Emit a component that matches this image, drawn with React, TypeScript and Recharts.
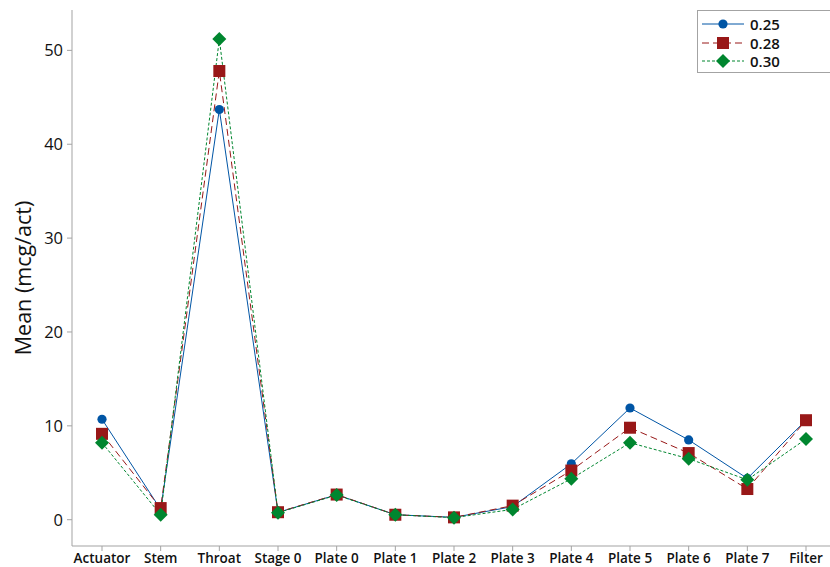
import {
  LineChart,
  Line,
  XAxis,
  YAxis,
  Legend,
} from "recharts";

const stages = [
  "Actuator",
  "Stem",
  "Throat",
  "Stage 0",
  "Plate 0",
  "Plate 1",
  "Plate 2",
  "Plate 3",
  "Plate 4",
  "Plate 5",
  "Plate 6",
  "Plate 7",
  "Filter",
];

const flow025 = [10.7, 1.1, 43.7, 0.78, 2.66, 0.53, 0.25, 1.4, 5.96, 11.9, 8.5, 4.4, 10.6];
const flow028 = [9.15, 1.24, 47.8, 0.8, 2.68, 0.53, 0.25, 1.5, 5.24, 9.8, 7.1, 3.27, 10.6];
const flow030 = [8.2, 0.53, 51.2, 0.75, 2.62, 0.53, 0.22, 1.1, 4.36, 8.2, 6.5, 4.25, 8.6];

const yTicks = [0, 10, 20, 30, 40, 50];

const BLUE = "#0055a5";
const RED = "#981818";
const GREEN = "#00862f";
const AXIS = "#a3a3a3";
const FONT = "'Open Sans', 'DejaVu Sans', sans-serif";

const chartData = stages.map((s, i) => ({
  stage: s,
  a: flow025[i],
  b: flow028[i],
  c: flow030[i],
}));

const CircleDot = ({ cx, cy, index }: any) => (
  <circle key={`c${index}`} cx={cx} cy={cy} r={4.6} fill={BLUE} />
);

const SquareDot = ({ cx, cy, index }: any) => (
  <rect key={`s${index}`} x={cx - 6} y={cy - 6} width={12} height={12} fill={RED} />
);

const DiamondDot = ({ cx, cy, index }: any) => (
  <polygon
    key={`d${index}`}
    points={`${cx},${cy - 7} ${cx + 7},${cy} ${cx},${cy + 7} ${cx - 7},${cy}`}
    fill={GREEN}
  />
);

const series = [
  { key: "a", name: "0.25", color: BLUE, dash: undefined, Dot: CircleDot },
  { key: "b", name: "0.28", color: RED, dash: "7 4", Dot: SquareDot },
  { key: "c", name: "0.30", color: GREEN, dash: "3 2", Dot: DiamondDot },
];

// boxed legend in the top right corner, line sample with marker in the middle
const LegendBox = () => (
  <div
    style={{
      border: `1px solid ${AXIS}`,
      width: 140,
      height: 63,
      boxSizing: "border-box",
      background: "#fff",
      paddingTop: 4,
    }}
  >
    {series.map((s) => (
      <div
        key={s.key}
        style={{ display: "flex", alignItems: "center", height: 18.5 }}
      >
        <svg width={48} height={16} style={{ marginLeft: 4 }}>
          <line
            x1={0}
            x2={42}
            y1={8}
            y2={8}
            stroke={s.color}
            strokeWidth={1}
            strokeDasharray={s.dash}
          />
          <s.Dot cx={21} cy={8} index={0} />
        </svg>
        <span
          style={{
            fontFamily: FONT,
            fontSize: 15,
            fontWeight: 600,
            color: "#111",
          }}
        >
          {s.name}
        </span>
      </div>
    ))}
  </div>
);

const YLabel = ({ viewBox }: any) => {
  const cx = 22;
  const cy = viewBox.y + viewBox.height / 2;
  return (
    <text
      x={cx}
      y={cy}
      transform={`rotate(-90, ${cx}, ${cy})`}
      textAnchor="middle"
      dominantBaseline="central"
      fontFamily={FONT}
      fontSize={21.5}
      fontWeight={500}
      fill="#111"
    >
      Mean (mcg/act)
    </text>
  );
};

export default function App() {
  return (
    <div style={{ position: "fixed", left: 0, top: 0, width: 830, height: 567, overflow: "hidden", background: "#fff" }}>
      <LineChart
        width={840}
        height={567}
        data={chartData}
        margin={{ top: 10, right: 4, bottom: 0, left: 30 }}
      >
        <XAxis
          dataKey="stage"
          padding={{ left: 30, right: 30 }}
          height={21}
          stroke={AXIS}
          tickSize={5}
          tickMargin={2}
          interval={0}
          tick={{ fill: "#111", fontFamily: FONT, fontSize: 13.5, fontWeight: 600 }}
        />
        <XAxis
          xAxisId="top"
          dataKey="stage"
          orientation="top"
          height={0}
          tick={false}
          tickLine={false}
          stroke={AXIS}
        />
        <YAxis
          width={42}
          domain={[-2.8, 54.3]}
          allowDataOverflow
          ticks={yTicks}
          stroke={AXIS}
          tickSize={5}
          tickMargin={4}
          tick={{ fill: "#111", fontFamily: FONT, fontSize: 16.5, fontWeight: 500 }}
          label={<YLabel />}
        />
        <Legend
          layout="vertical"
          align="center"
          verticalAlign="middle"
          content={<LegendBox />}
          wrapperStyle={{ position: "absolute", left: 697, top: 10, width: 140 }}
        />
        {series.map((s) => (
          <Line
            key={s.key}
            dataKey={s.key}
            name={s.name}
            type="linear"
            stroke={s.color}
            strokeWidth={1}
            strokeDasharray={s.dash}
            dot={s.Dot}
            activeDot={false}
            isAnimationActive={false}
          />
        ))}
      </LineChart>
    </div>
  );
}
